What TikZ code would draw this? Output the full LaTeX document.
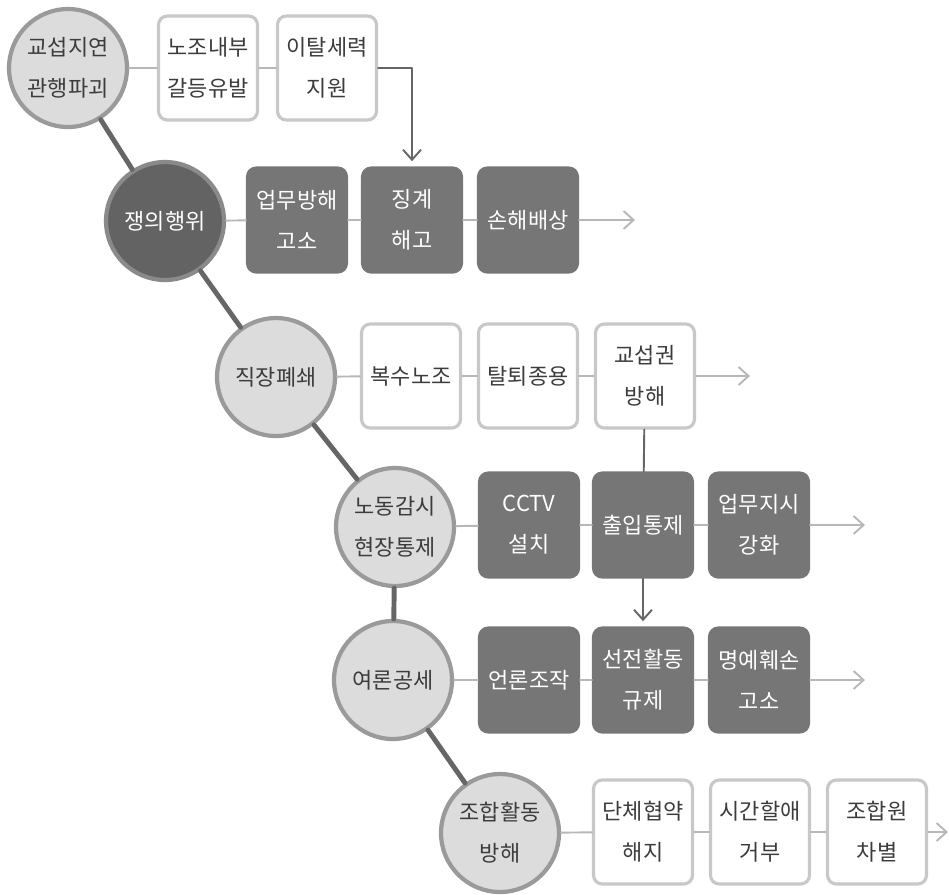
\documentclass[tikz,border=0pt]{standalone}
\usepackage{fontspec}
\newfontfamily\krfont{Noto Sans CJK KR}
\usetikzlibrary{arrows.meta}
\definecolor{circfill}{HTML}{DCDCDC}
\definecolor{circrim}{HTML}{9A9A9A}
\definecolor{darkfill}{HTML}{636363}
\definecolor{darkrim}{HTML}{8A8A8A}
\definecolor{boxrim}{HTML}{C8C8C8}
\definecolor{boxdark}{HTML}{767676}
\definecolor{linkgray}{HTML}{B8B8B8}
\definecolor{spinegray}{HTML}{666666}
\definecolor{textgray}{HTML}{3C3C3C}
\begin{document}
\begin{tikzpicture}[x=0.02cm,y=-0.02cm,>={Straight Barb[length=2mm,width=3.6mm]},line join=round,line cap=round,
  font=\krfont\fontsize{12.5}{23.5}\selectfont,
  lightcirc/.style={circle,draw=circrim,fill=circfill,line width=2.4pt,minimum size=2.36cm,inner sep=0pt,text=textgray,align=center},
  darkcirc/.style={lightcirc,draw=darkrim,fill=darkfill,text=white},
  whitebox/.style={rounded corners=5pt,draw=boxrim,fill=white,line width=1.8pt,minimum width=1.98cm,minimum height=2.08cm,inner sep=0pt,align=center,text=textgray},
  darkbox/.style={whitebox,draw=boxdark,fill=boxdark,text=white},
  link/.style={draw=linkgray,line width=1.1pt},
  spine/.style={draw=spinegray,line width=2.8pt},
  jump/.style={draw=spinegray,line width=1.1pt}]
\useasboundingbox (0,0) rectangle (949,894);
% circles
\node[lightcirc] (c1) at (68,68) {교섭지연\\관행파괴};
\node[darkcirc] (c2) at (165,221) {쟁의행위};
\node[lightcirc] (c3) at (276,377) {직장폐쇄};
\node[lightcirc] (c4) at (395,527) {노동감시\\현장통제};
\node[lightcirc] (c5) at (393,680) {여론공세};
\node[lightcirc] (c6) at (500,833) {조합활동\\방해};
% boxes
\node[whitebox] (b11) at (208,68) {노조내부\\갈등유발};
\node[whitebox] (b12) at (327,68) {이탈세력\\지원};
\node[darkbox] (b21) at (297,220) {업무방해\\고소};
\node[darkbox] (b22) at (412,220) {징계\\해고};
\node[darkbox] (b23) at (528,220) {손해배상};
\node[whitebox] (b31) at (411,376) {복수노조};
\node[whitebox] (b32) at (528,376) {탈퇴종용};
\node[whitebox] (b33) at (645,376) {교섭권\\방해};
\node[darkbox] (b41) at (529,525) {CCTV\\설치};
\node[darkbox] (b42) at (643,525) {출입통제};
\node[darkbox] (b43) at (759,525) {업무지시\\강화};
\node[darkbox] (b51) at (529,680) {언론조작};
\node[darkbox] (b52) at (643,680) {선전활동\\규제};
\node[darkbox] (b53) at (759,680) {명예훼손\\고소};
\node[whitebox] (b61) at (643,832) {단체협약\\해지};
\node[whitebox] (b62) at (760,832) {시간할애\\거부};
\node[whitebox] (b63) at (877,832) {조합원\\차별};
\coordinate (e2) at (635,220);
\coordinate (e3) at (750,376);
\coordinate (e4) at (865,525);
\coordinate (e5) at (865,680);
\coordinate (e6) at (948,832);
% spine
\draw[spine] (c1) -- (c2);
\draw[spine] (c2) -- (c3);
\draw[spine] (c3) -- (c4);
\draw[spine] (c4) -- (c5);
\draw[spine] (c5) -- (c6);
% links
\draw[link] (c1) -- (b11) -- (b12);
\draw[link] (c2) -- (b21) -- (b22) -- (b23);
\draw[link,->] (b23) -- (e2);
\draw[link] (c3) -- (b31) -- (b32) -- (b33);
\draw[link,->] (b33) -- (e3);
\draw[link] (c4) -- (b41) -- (b42) -- (b43);
\draw[link,->] (b43) -- (e4);
\draw[link] (c5) -- (b51) -- (b52) -- (b53);
\draw[link,->] (b53) -- (e5);
\draw[link] (c6) -- (b61) -- (b62) -- (b63);
\draw[link,->] (b63) -- (e6);
% cross links
\draw[jump,->,shorten >=3pt] (b12.east) -| (b22.north);
\draw[jump] (b33) -- (b42);
\draw[jump,->,shorten >=3pt] (b42) -- (b52);
\end{tikzpicture}
\end{document}
